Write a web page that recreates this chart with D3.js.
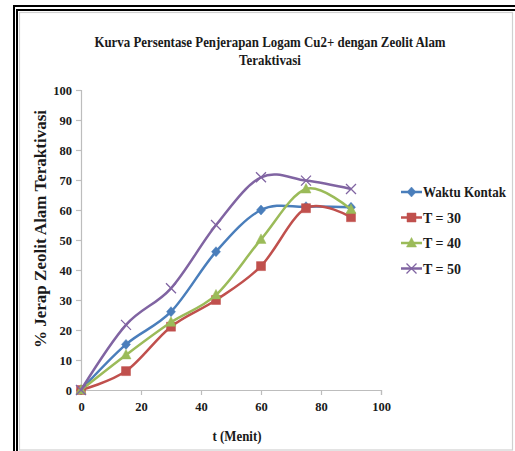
<!DOCTYPE html>
<html>
<head>
<meta charset="utf-8">
<script src="https://cdn.jsdelivr.net/npm/d3@7"></script>
<style>
  html, body { margin: 0; padding: 0; background: #fff; }
  svg { display: block; }
</style>
</head>
<body>
<svg id="chart" width="515" height="451"></svg>
<script>
// Contact time (minutes)
const times = [0, 15, 30, 45, 60, 75, 90];

// Percentage of Cu2+ adsorbed for each series
const waktuKontak = [0, 15.2, 26.1, 46.1, 60, 61.1, 60.9];
const t30 = [0, 6.3, 21.1, 30, 41.3, 60.6, 57.6];
const t40 = [0, 11.7, 22.6, 31.7, 50.2, 67, 60.2];
const t50 = [0, 21.7, 33.9, 55, 70.9, 69.8, 67];

const seriesNames = ["Waktu Kontak", "T = 30", "T = 40", "T = 50"];
const seriesColors = ["#4a7ebb", "#c0504d", "#9bbb59", "#8064a2"];
const seriesMarkers = ["diamond", "square", "triangle", "cross"];

const xTicks = [0, 20, 40, 60, 80, 100];
const yTicks = [0, 10, 20, 30, 40, 50, 60, 70, 80, 90, 100];

const titleLines = ["Kurva Persentase Penjerapan Logam Cu2+ dengan Zeolit Alam", "Teraktivasi"];
const xTitle = "t (Menit)";
const yTitle = "% Jerap Zeolit Alam Teraktivasi";

const FONT = "'Liberation Serif', 'Times New Roman', serif";
const INK = "#1a1a1a";

const series = [waktuKontak, t30, t40, t50].map((vals, i) => ({
  name: seriesNames[i], color: seriesColors[i], marker: seriesMarkers[i],
  points: vals.map((v, j) => ({ x: times[j], y: v }))
}));

const svg = d3.select("#chart");

function label(sel, size) {
  return sel.style("font-family", FONT).style("font-weight", "bold")
    .style("font-size", size + "px").attr("fill", INK);
}

// Outer frame: double black rule on top and left, light grey chart border
svg.append("rect").attr("x", 19.5).attr("y", 12.5).attr("width", 493).attr("height", 437.5)
  .attr("fill", "#fff").attr("stroke", "#d0d0d0").attr("stroke-width", 1.2);
svg.append("rect").attr("x", 13).attr("y", 5).attr("width", 502).attr("height", 2).attr("fill", "#000");
svg.append("rect").attr("x", 16).attr("y", 9).attr("width", 499).attr("height", 2).attr("fill", "#000");
svg.append("rect").attr("x", 13).attr("y", 5).attr("width", 2).attr("height", 446).attr("fill", "#000");
svg.append("rect").attr("x", 16).attr("y", 9).attr("width", 2).attr("height", 442).attr("fill", "#000");

const x = d3.scaleLinear().domain([0, 100]).range([81, 381]);
const y = d3.scaleLinear().domain([0, 100]).range([390, 90]);

// Title
const title = label(svg.append("text").attr("text-anchor", "middle")
  .attr("transform", "translate(270,0) scale(0.86,1)"), 15);
titleLines.forEach((line, i) => {
  title.append("tspan").attr("x", 0).attr("y", 47 + i * 18).text(line);
});

// Axes
const axisColor = "#bdbdbd";
const yAxis = svg.append("g").attr("transform", `translate(${x(0)},0)`)
  .call(d3.axisLeft(y).tickValues(yTicks).tickSize(5).tickPadding(4));
const xAxis = svg.append("g").attr("transform", `translate(0,${y(0)})`)
  .call(d3.axisBottom(x).tickValues(xTicks).tickSize(5).tickPadding(7));
[xAxis, yAxis].forEach(g => {
  g.select(".domain").attr("stroke", axisColor).attr("stroke-width", 1.2);
  g.selectAll(".tick line").attr("stroke", axisColor).attr("stroke-width", 1.2);
  label(g.selectAll(".tick text"), 12.5);
});

// Axis titles
label(svg.append("text").attr("text-anchor", "middle")
  .attr("transform", "translate(237,441) scale(0.92,1)"), 14).text(xTitle);
label(svg.append("text").attr("text-anchor", "middle")
  .attr("x", 0).attr("y", 0)
  .attr("textLength", 238).attr("lengthAdjust", "spacingAndGlyphs")
  .attr("transform", "translate(46,229) rotate(-90)"), 16).text(yTitle);

// Marker shapes
function markerPath(type) {
  switch (type) {
    case "diamond": return "M0,-5L4.5,0L0,5L-4.5,0Z";
    case "square": return "M-4.5,-4.5H4.5V4.5H-4.5Z";
    case "triangle": return "M0,-5.5L5,4L-5,4Z";
    default: return "M-5,-5L5,5M-5,5L5,-5";
  }
}
function drawMarker(g, type, color) {
  const p = g.append("path").attr("d", markerPath(type));
  if (type === "cross") p.attr("fill", "none").attr("stroke", color).attr("stroke-width", 1.3);
  else p.attr("fill", color).attr("stroke", color).attr("stroke-width", 0.5);
}

const line = d3.line().x(d => x(d.x)).y(d => y(d.y)).curve(d3.curveCatmullRom.alpha(0));

series.forEach(s => {
  const g = svg.append("g");
  g.append("path").datum(s.points).attr("d", line)
    .attr("fill", "none").attr("stroke", s.color).attr("stroke-width", 2.5);
  s.points.forEach(p => {
    drawMarker(g.append("g").attr("transform", `translate(${x(p.x)},${y(p.y)})`), s.marker, s.color);
  });
});

// Legend
const legendY = [192, 217.5, 243, 268.5];
series.forEach((s, i) => {
  const g = svg.append("g").attr("transform", `translate(401,${legendY[i]})`);
  g.append("line").attr("x1", 0).attr("x2", 21).attr("stroke", s.color).attr("stroke-width", 2.5);
  drawMarker(g.append("g").attr("transform", "translate(10.5,0)"), s.marker, s.color);
  const t = label(g.append("text").attr("x", 22).attr("y", 5), 14).text(s.name);
  if (i === 0) t.attr("textLength", 83).attr("lengthAdjust", "spacingAndGlyphs");
});
</script>
</body>
</html>
